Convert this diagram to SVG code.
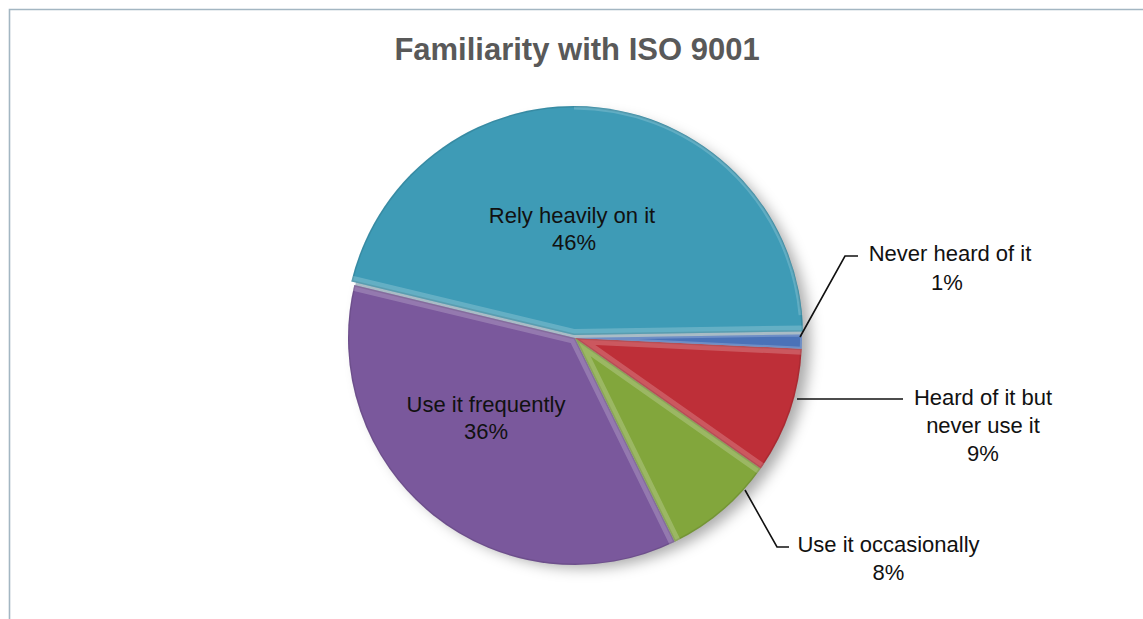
<svg xmlns="http://www.w3.org/2000/svg" width="1143" height="619" viewBox="0 0 1143 619">
  <style>
    .title { font-family: "Liberation Sans", Arial, sans-serif; font-weight: bold; font-size: 31px; fill: #595959; text-anchor: middle; }
    .lbl { font-family: "Liberation Sans", Arial, sans-serif; font-size: 22px; fill: #111111; text-anchor: middle; }
    .leader { fill: none; stroke: #111111; stroke-width: 1.6; }
    .bevel { fill: none; stroke: #ffffff; stroke-opacity: 0.2; stroke-width: 12; stroke-linejoin: miter; }
    .rim { fill: none; stroke: #000000; stroke-opacity: 0.1; stroke-width: 3; }
    .hl { fill: none; stroke: #ffffff; stroke-opacity: 0.18; stroke-width: 3; }
  </style>
  <defs>
    <filter id="shadow" x="-20%" y="-20%" width="140%" height="140%">
      <feGaussianBlur stdDeviation="7"/>
    </filter>
    <path id="pBlue" d="M574,335 L351.33,281.54 A229,229 0 0,1 802.97,331.40 Z"/>
    <path id="pNever" d="M575,338 L801.97,334.43 A227,227 0 0,1 801.75,348.69 Z"/>
    <path id="pRed" d="M575,338 L801.75,348.69 A227,227 0 0,1 760.72,468.53 Z"/>
    <path id="pGreen" d="M575,338 L760.72,468.53 A227,227 0 0,1 674.88,541.85 Z"/>
    <path id="pPurple" d="M575,338 L674.88,541.85 A227,227 0 0,1 354.27,285.01 Z"/>
    <clipPath id="cBlue"><use href="#pBlue"/></clipPath>
    <clipPath id="cNever"><use href="#pNever"/></clipPath>
    <clipPath id="cRed"><use href="#pRed"/></clipPath>
    <clipPath id="cGreen"><use href="#pGreen"/></clipPath>
    <clipPath id="cPurple"><use href="#pPurple"/></clipPath>
  </defs>

  <rect x="0" y="0" width="1143" height="619" fill="#ffffff"/>
  <!-- frame -->
  <path d="M9.5,619 L9.5,9.5 L1143,9.5" fill="none" stroke="#a3b6c2" stroke-width="1.6"/>

  <text class="title" x="577" y="59.5">Familiarity with ISO 9001</text>

  <!-- drop shadow -->
  <circle cx="584" cy="342" r="226" fill="#000000" fill-opacity="0.33" filter="url(#shadow)"/>
  <circle cx="575" cy="338" r="226" fill="#a9bcc6"/>

  <g id="slice-rely">
    <use href="#pBlue" fill="#3e9bb6"/>
    <polyline class="bevel" clip-path="url(#cBlue)" points="351.33,281.54 574,335 802.97,331.40"/>
    <path class="hl" clip-path="url(#cBlue)" d="M574,108 A227,227 0 0,1 800.1,315.2"/>
    <use href="#pBlue" class="rim" clip-path="url(#cBlue)"/>
    <text class="lbl" x="572" y="223">Rely heavily on it</text>
    <text class="lbl" x="574" y="250">46%</text>
  </g>

  <g id="slice-frequently">
    <use href="#pPurple" fill="#7a589c"/>
    <polyline class="bevel" clip-path="url(#cPurple)" points="674.88,541.85 575,338 354.27,285.01"/>
    <use href="#pPurple" class="rim" clip-path="url(#cPurple)"/>
    <text class="lbl" x="486" y="411.5">Use it frequently</text>
    <text class="lbl" x="486" y="438.5">36%</text>
  </g>

  <g id="slice-occasionally">
    <use href="#pGreen" fill="#82a63c"/>
    <polyline class="bevel" clip-path="url(#cGreen)" points="760.72,468.53 575,338 674.88,541.85"/>
    <use href="#pGreen" class="rim" clip-path="url(#cGreen)"/>
    <text class="lbl" x="888.5" y="551.5">Use it occasionally</text>
    <text class="lbl" x="888.5" y="580">8%</text>
  </g>

  <g id="slice-heard">
    <use href="#pRed" fill="#be2f38"/>
    <polyline class="bevel" clip-path="url(#cRed)" points="801.75,348.69 575,338 760.72,468.53"/>
    <use href="#pRed" class="rim" clip-path="url(#cRed)"/>
    <text class="lbl" x="983" y="405">Heard of it but</text>
    <text class="lbl" x="983" y="433">never use it</text>
    <text class="lbl" x="983" y="460.5">9%</text>
  </g>

  <g id="slice-never">
    <use href="#pNever" fill="#4a72b8"/>
    <use href="#pNever" class="bevel" clip-path="url(#cNever)" style="stroke-width:4"/>
    <text class="lbl" x="950" y="260.5">Never heard of it</text>
    <text class="lbl" x="947" y="290">1%</text>
  </g>

  <g id="connectors">
    <polyline class="leader" points="800,337 845,256 858,256"/>
    <polyline class="leader" points="797,399 903,399"/>
    <polyline class="leader" points="745,490 777,547 789,547"/>
  </g>
</svg>
